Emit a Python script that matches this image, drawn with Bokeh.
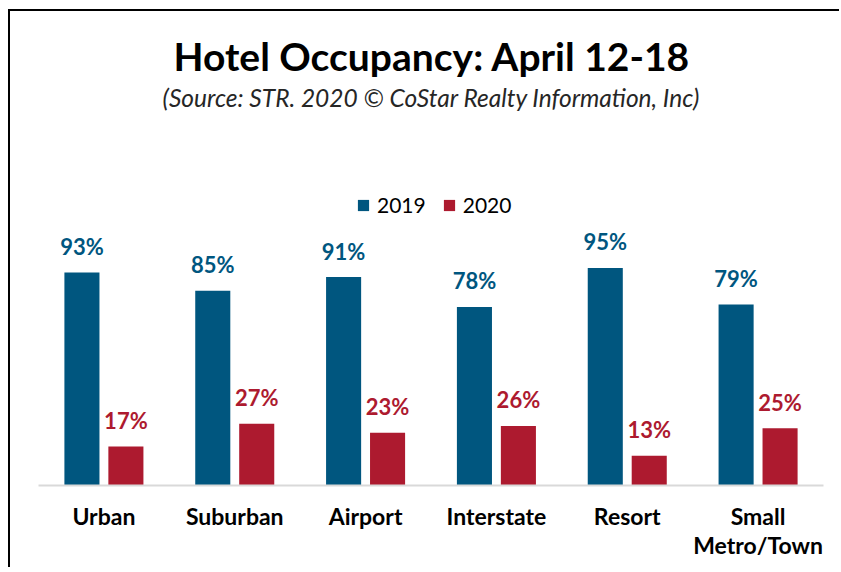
from bokeh.plotting import figure
from bokeh.layouts import column
from bokeh.models import (FactorRange, Range1d, ColumnDataSource, Legend, LegendItem, Label)
from bokeh.transform import dodge
from bokeh.core.properties import value
from bokeh.embed import file_html
from bokeh.resources import INLINE

categories = ["Urban", "Suburban", "Airport", "Interstate", "Resort", "Small\nMetro/Town"]
occ_2019 = [93, 85, 91, 78, 95, 79]
occ_2020 = [17, 27, 23, 26, 13, 25]
series = ["2019", "2020"]
title_text = "Hotel Occupancy: April 12-18"
subtitle_text = "(Source: STR. 2020 \u00a9 CoStar Realty Information, Inc)"

BLUE = "#00567F"
RED = "#AD1A2F"
FONT = "Lato"

src = ColumnDataSource(dict(
    cat=categories,
    v2019=occ_2019,
    v2020=occ_2020,
    l2019=[f"{v}%" for v in occ_2019],
    l2020=[f"{v}%" for v in occ_2020],
))

W, H = 829, 556
FRAME_BOTTOM = 474
Y_END = FRAME_BOTTOM / 2.29

p = figure(x_range=FactorRange(factors=categories), y_range=Range1d(0, Y_END),
           width=W, height=H, output_backend="svg", toolbar_location=None,
           min_border_left=28, min_border_right=16, min_border_top=0,
           min_border_bottom=H - FRAME_BOTTOM)
p.outline_line_color = None
p.xgrid.visible = False
p.ygrid.visible = False
p.yaxis.visible = False
p.background_fill_color = "white"
p.border_fill_color = "white"

BW = 0.268
OFF = 0.168
r1 = p.vbar(x=dodge("cat", -OFF, range=p.x_range), top="v2019", width=BW, source=src,
            fill_color=BLUE, line_color=None)
r2 = p.vbar(x=dodge("cat", OFF, range=p.x_range), top="v2020", width=BW, source=src,
            fill_color=RED, line_color=None)

p.text(x=dodge("cat", -OFF, range=p.x_range), y="v2019", text="l2019", source=src,
       text_align="center", text_baseline="alphabetic", y_offset=-26,
       text_font=value(FONT), text_font_style="bold", text_font_size="22px",
       text_color=BLUE)
p.text(x=dodge("cat", OFF, range=p.x_range), y="v2020", text="l2020", source=src,
       text_align="center", text_baseline="alphabetic", y_offset=-26,
       text_font=value(FONT), text_font_style="bold", text_font_size="22px",
       text_color=RED)

xa = p.xaxis[0]
xa.axis_line_color = "#D9D9D9"
xa.axis_line_width = 2
xa.major_tick_line_color = None
xa.minor_tick_line_color = None
xa.major_label_text_font = FONT
xa.major_label_text_font_style = "bold"
xa.major_label_text_font_size = "23px"
xa.major_label_text_line_height = 1.05
xa.major_label_text_color = "black"
xa.major_label_standoff = 10

legend = Legend(items=[LegendItem(label=series[0], renderers=[r1]),
                       LegendItem(label=series[1], renderers=[r2])],
                orientation="horizontal", location=(318, 268),
                glyph_width=14, glyph_height=14, label_standoff=7, spacing=16,
                padding=0, margin=0, border_line_color=None, background_fill_alpha=0,
                label_text_font=FONT, label_text_font_size="21px", label_text_color="black")
p.add_layout(legend)

p.add_layout(Label(x=393.5, y=430, x_units="screen", y_units="screen", text=title_text,
                   text_align="center", text_baseline="alphabetic",
                   text_font=FONT, text_font_style="bold", text_font_size="39px",
                   text_color="black"))
p.add_layout(Label(x=393, y=388, x_units="screen", y_units="screen", text=subtitle_text,
                   text_align="center", text_baseline="alphabetic",
                   text_font=FONT, text_font_style="italic", text_font_size="24.5px",
                   text_color="#262626"))

page = column(p, styles={"margin-left": "8px", "margin-top": "9px",
                         "border-left": "2px solid black", "border-top": "2px solid black",
                         "border-right": "none", "border-bottom": "none",
                         "overflow": "hidden", "box-sizing": "content-box"})

open("out.html", "w").write(file_html(page, INLINE))
